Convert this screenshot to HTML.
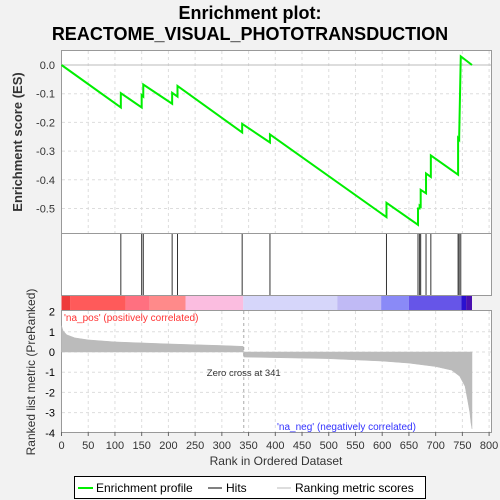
<!DOCTYPE html>
<html><head><meta charset="utf-8"><style>
body{margin:0;background:#f2f2f2;}
svg{display:block;font-family:"Liberation Sans","DejaVu Sans",sans-serif;}
</style></head><body>
<svg id="c" width="500" height="500">
<text x="250" y="19" text-anchor="middle" font-size="18" font-weight="bold" fill="#000">Enrichment plot:</text>
<text x="250" y="40" text-anchor="middle" font-size="18" font-weight="bold" fill="#000">REACTOME_VISUAL_PHOTOTRANSDUCTION</text>
<g id="g"></g>
<text transform="translate(22,142) rotate(-90)" text-anchor="middle" font-size="13" font-weight="bold" fill="#333">Enrichment score (ES)</text>
<text transform="translate(35,372) rotate(-90)" text-anchor="middle" font-size="12" fill="#333">Ranked list metric (PreRanked)</text>
<text x="276" y="465" text-anchor="middle" font-size="12" fill="#333">Rank in Ordered Dataset</text>
<g>
<rect x="74.5" y="476.5" width="351" height="22" fill="#fff" stroke="#000"/>
<line x1="78" y1="488" x2="93" y2="488" stroke="#00ee00" stroke-width="2"/>
<text x="96" y="492" font-size="12">Enrichment profile</text>
<line x1="208" y1="488" x2="222" y2="488" stroke="#000"/>
<text x="226" y="492" font-size="12">Hits</text>
<line x1="277" y1="488" x2="291" y2="488" stroke="#bbb"/>
<text x="295" y="492" font-size="12">Ranking metric scores</text>
</g>
</svg>
<script>
const esRanks=[0,111,111,150,150,153,153,207,207,217,217,338,338,390,390,608,608,667,667,670,670,672,672,682,682,691,691,742,742,744,744,747,768];
const esValues=[0,-0.148,-0.098,-0.148,-0.105,-0.11,-0.068,-0.135,-0.097,-0.11,-0.073,-0.235,-0.205,-0.27,-0.242,-0.53,-0.48,-0.557,-0.5,-0.5,-0.49,-0.493,-0.435,-0.447,-0.378,-0.39,-0.315,-0.382,-0.255,-0.26,-0.25,0.03,0];
const hitRanks=[111,150,153,207,217,338,390,608,667,670,672,682,691,742,744,747];
const metricRanks=[0,3,10,25,50,100,150,200,250,300,340,341,400,500,600,650,700,730,745,755,760,764,766,768];
const metricValues=[1.3,1.05,0.85,0.7,0.6,0.5,0.45,0.4,0.36,0.32,0.28,-0.25,-0.28,-0.33,-0.45,-0.55,-0.72,-0.9,-1.2,-1.7,-2.4,-3.0,-3.5,-3.8];
const esTicks=[0,-0.1,-0.2,-0.3,-0.4,-0.5];
const metricTicks=[2,1,0,-1,-2,-3,-4];
const xTicks=[0,50,100,150,200,250,300,350,400,450,500,550,600,650,700,750,800];
const barEdges=[0,16,120,165,232,340,516,598,650,748,757,768];
const barColors=['#ee3b3b','#ff5a5a','#ff7080','#ff8a8a','#fbbde0','#d6d6fa','#c0baf5','#8a8af7','#6655e8','#2a10d0','#4a10b0'];
const NS='http://www.w3.org/2000/svg';
const g=document.getElementById('g');
const X=r=>61.5+r*0.5345;
const YE=v=>65-v*287;
const YM=v=>352-v*20.2;
function mk(t,a,p){const e=document.createElementNS(NS,t);for(const k in a)e.setAttribute(k,a[k]);(p||g).appendChild(e);return e;}
// panels
const p1=mk('rect',{x:61.5,y:50.5,width:430,height:183,fill:'#fff',stroke:'#999'});


const p2=mk('rect',{x:61.5,y:233.5,width:430,height:62,fill:'#fff',stroke:'#999'});


const p3=mk('rect',{x:61.5,y:310.5,width:430,height:122,fill:'#fff',stroke:'#999'});


// grid
xTicks.forEach(t=>{if(t>0){mk('line',{x1:X(t),y1:51,x2:X(t),y2:233,stroke:'#ddd','stroke-dasharray':'3,3'});mk('line',{x1:X(t),y1:311,x2:X(t),y2:432,stroke:'#ddd','stroke-dasharray':'3,3'});}
const tl=mk('text',{x:X(t),y:449,'text-anchor':'middle','font-size':11,fill:'#333'});tl.textContent=t;


mk('line',{x1:X(t),y1:432,x2:X(t),y2:436,stroke:'#666'});});
esTicks.forEach(t=>{mk('line',{x1:62,y1:YE(t),x2:491,y2:YE(t),stroke:t==0?'#bbb':'#ddd','stroke-dasharray':t==0?'':'3,3'});
const tl=mk('text',{x:55,y:YE(t)+4,'text-anchor':'end','font-size':11,fill:'#333'});tl.textContent=t.toFixed(1);

});
metricTicks.forEach(t=>{if(t<2&&t>-4)mk('line',{x1:62,y1:YM(t),x2:491,y2:YM(t),stroke:'#ddd','stroke-dasharray':'3,3'});
const tl=mk('text',{x:55,y:YM(t)+4,'text-anchor':'end','font-size':11,fill:'#000'});tl.textContent=t;

});
// color bar
for(let i=0;i<barColors.length;i++){const r=mk('rect',{x:X(barEdges[i]),y:296,width:X(barEdges[i+1])-X(barEdges[i]),height:14,fill:barColors[i]});

}
// hits
hitRanks.forEach(h=>{const l=mk('line',{x1:X(h),y1:234,x2:X(h),y2:295,stroke:'#333','stroke-width':1});

});
// metric area
let d='M'+X(0)+','+YM(0);
metricRanks.forEach((r,i)=>{d+=' L'+X(r)+','+YM(metricValues[i]);});
d+=' L'+X(metricRanks[metricRanks.length-1])+','+YM(0)+' Z';
const ar=mk('path',{d:d,fill:'#bbb',stroke:'#bbb','stroke-width':0.5});


mk('line',{x1:X(341),y1:311,x2:X(341),y2:432,stroke:'#aaa','stroke-dasharray':'3,3'});
const zc=mk('text',{x:X(341),y:376,'text-anchor':'middle','font-size':9.5,fill:'#333'});zc.textContent='Zero cross at 341';


const np=mk('text',{x:64,y:321,'font-size':10,fill:'#ff3333'});np.textContent="'na_pos' (positively correlated)";


const nn=mk('text',{x:277,y:430,'font-size':10,fill:'#3333ff'});nn.textContent="'na_neg' (negatively correlated)";


// ES line
const pts=esRanks.map((r,i)=>X(r)+','+YE(esValues[i])).join(' ');
const es=mk('polyline',{points:pts,fill:'none',stroke:'#00ee00','stroke-width':2});


</script>
</body></html>
